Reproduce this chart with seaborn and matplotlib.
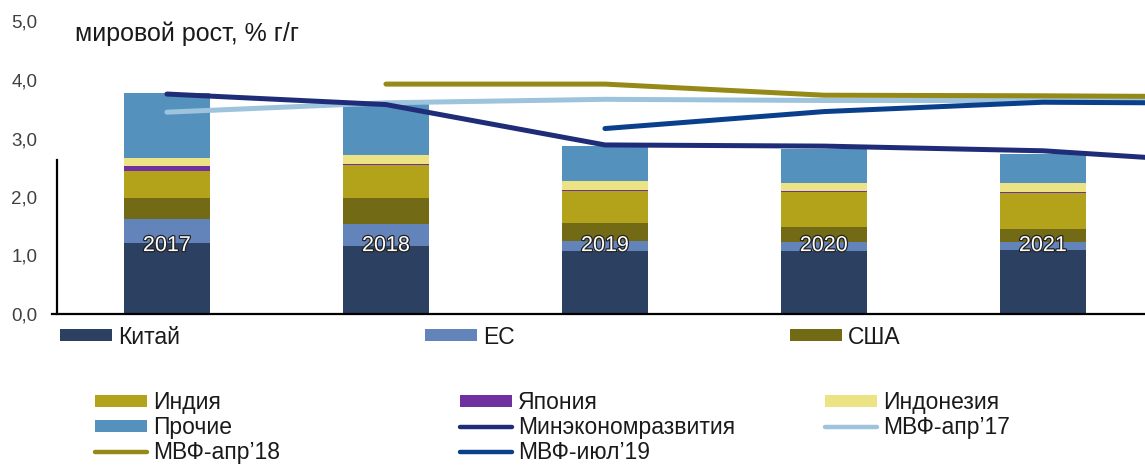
import numpy as np
import pandas as pd
import matplotlib
matplotlib.use("Agg")
import matplotlib.pyplot as plt
import matplotlib.patheffects as pe
from matplotlib.patches import Patch
from matplotlib.lines import Line2D
import seaborn as sns

# --- data (contributions to world growth, pp) ---
years = ["2017", "2018", "2019", "2020", "2021"]
china = [1.21, 1.17, 1.08, 1.08, 1.09]
eu = [0.42, 0.37, 0.17, 0.15, 0.14]
usa = [0.35, 0.44, 0.31, 0.26, 0.23]
india = [0.47, 0.56, 0.55, 0.60, 0.61]
japan = [0.085, 0.03, 0.017, 0.017, 0.017]
indonesia = [0.13, 0.14, 0.14, 0.13, 0.15]
other = [1.11, 0.88, 0.60, 0.59, 0.50]

# forecast lines, 2017..2022 (2022 runs past the right edge)
line_years = [2017, 2018, 2019, 2020, 2021, 2022]
mineco = [3.76, 3.58, 2.89, 2.87, 2.79, 2.55]
imf_apr17 = [3.45, 3.61, 3.67, 3.65, 3.65, 3.65]
imf_apr18 = [np.nan, 3.93, 3.93, 3.74, 3.73, 3.71]
imf_jul19 = [np.nan, np.nan, 3.17, 3.46, 3.62, 3.60]

bar_series = [
    ("Китай", china, "#2c4061"),
    ("ЕС", eu, "#6384bb"),
    ("США", usa, "#726a14"),
    ("Индия", india, "#b2a31a"),
    ("Япония", japan, "#7030a0"),
    ("Индонезия", indonesia, "#ece384"),
    ("Прочие", other, "#5591bd"),
]
line_series = [
    ("МВФ-апр’17", imf_apr17, "#9dc3dd"),
    ("Минэкономразвития", mineco, "#1f2d78"),
    ("МВФ-апр’18", imf_apr18, "#958a17"),
    ("МВФ-июл’19", imf_jul19, "#0a3f8c"),
]

sns.set_theme(style="white")
plt.rcParams["font.family"] = ["Liberation Sans", "DejaVu Sans"]

fig = plt.figure(figsize=(11.45, 4.66), dpi=100)
ax = fig.add_axes([57 / 1145, 152 / 466, 1088 / 1145, 292.5 / 466])

x_pos = np.arange(len(years))
df = pd.DataFrame({name: vals for name, vals, _ in bar_series}, index=x_pos)
cum = df.cumsum(axis=1)

# stacked bars: draw cumulative totals from the top down
for name, _, color in reversed(bar_series):
    sns.barplot(x=x_pos, y=cum[name].values, color=color, width=0.39,
                native_scale=True, saturation=1, linewidth=0,
                errorbar=None, ax=ax)

for i, yr in enumerate(years):
    ax.text(i, 1.17, yr, ha="center", va="center", color="white", fontsize=15.5,
            path_effects=[pe.Stroke(linewidth=1.8, foreground="#222222"), pe.Normal()],
            zorder=5)

lx = np.array(line_years) - 2017
for name, vals, color in line_series:
    s = pd.Series(vals, index=lx).dropna()
    sns.lineplot(x=s.index, y=s.values, color=color, linewidth=3.6, ax=ax,
                 solid_capstyle="round", solid_joinstyle="round", zorder=4)

ax.set_xlim(-0.502, 4.466)
ax.set_ylim(0, 5)
ax.set_xticks([])
ax.set_yticks(range(6))
ax.set_yticklabels([f"{v:.1f}".replace(".", ",") for v in range(6)],
                   fontsize=13.5, color="#404040")
ax.tick_params(axis="y", length=0, pad=14)
ax.set_xlabel("")
ax.set_ylabel("")

for side in ["top", "right"]:
    ax.spines[side].set_visible(False)
ax.spines["left"].set_color("black")
ax.spines["left"].set_linewidth(1.6)
ax.spines["left"].set_bounds(0, 2.63)
ax.spines["bottom"].set_color("black")
ax.spines["bottom"].set_linewidth(1.6)
ax.spines["bottom"].set_bounds(-0.525, 4.466)

fig.text(75 / 1145, 1 - 34 / 466, "мировой рост, % г/г", fontsize=18,
         va="center", ha="left", color="#1a1a1a")

# --- legends ---
colors = {name: c for name, _, c in bar_series + line_series}
line_names = [n for n, _, _ in line_series]


def handle(name):
    if name in line_names:
        return Line2D([0], [0], color=colors[name], linewidth=3.2, solid_capstyle="round")
    return Patch(facecolor=colors[name], edgecolor="none")


leg_kw = dict(frameon=False, fontsize=16.5, borderpad=0, borderaxespad=0,
              handlelength=2.25, handleheight=0.42, handletextpad=0.28,
              labelspacing=0.08, labelcolor="#1a1a1a")

for name, x in [("Китай", 60), ("ЕС", 425), ("США", 790)]:
    fig.legend([handle(name)], [name], loc="center left",
               bbox_to_anchor=(x / 1145, 1 - 337 / 466), **leg_kw)

columns = [
    (95, ["Индия", "Прочие", "МВФ-апр’18"]),
    (460, ["Япония", "Минэкономразвития", "МВФ-июл’19"]),
    (825, ["Индонезия", "МВФ-апр’17"]),
]
for x, names in columns:
    fig.legend([handle(n) for n in names], names, loc="upper left",
               bbox_to_anchor=(x / 1145, 1 - 391 / 466), **leg_kw)

fig.savefig("out.png", dpi=100)
